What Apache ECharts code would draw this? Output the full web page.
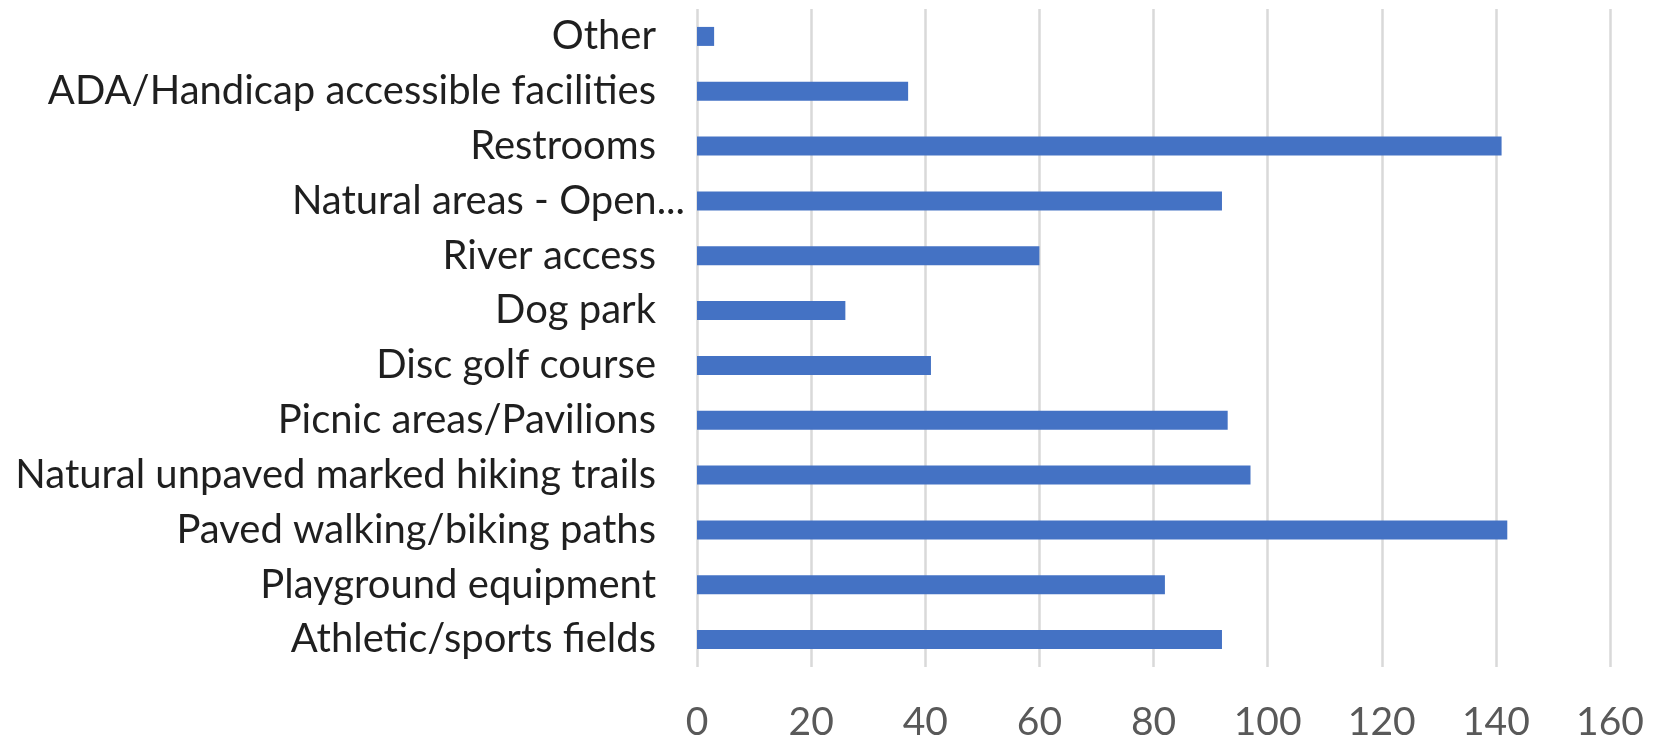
<!DOCTYPE html>
<html>
<head>
<meta charset="utf-8">
<script src="https://cdn.jsdelivr.net/npm/echarts@6/dist/echarts.min.js"></script>
<style>
  html, body { margin: 0; padding: 0; background: #ffffff; }
  #chart { width: 1653px; height: 742px; }
</style>
</head>
<body>
<div id="chart"></div>
<script>
// Amenity categories, listed bottom to top as drawn on the category axis
const categories = [
  'Athletic/sports fields',
  'Playground equipment',
  'Paved walking/biking paths',
  'Natural unpaved marked hiking trails',
  'Picnic areas/Pavilions',
  'Disc golf course',
  'Dog park',
  'River access',
  'Natural areas - Open...',
  'Restrooms',
  'ADA/Handicap accessible facilities',
  'Other'
];

// Number of responses per amenity
const responses = [92, 82, 142, 97, 93, 41, 26, 60, 92, 141, 37, 3];

// Value axis range
const axisMin = 0;
const axisMax = 160;
const axisStep = 20;

const chart = echarts.init(document.getElementById('chart'), null, { renderer: 'canvas' });

const labelFont = 'Lato, "Open Sans", sans-serif';

chart.setOption({
  animation: false,
  backgroundColor: '#ffffff',
  grid: { left: 697, right: 43, top: 9, bottom: 74, containLabel: false },
  xAxis: {
    type: 'value',
    min: axisMin,
    max: axisMax,
    interval: axisStep,
    axisLine: { show: false },
    axisTick: { show: false },
    splitLine: { show: true, lineStyle: { color: '#d9d9d9', width: 2.5 } },
    axisLabel: {
      color: '#595959',
      fontFamily: labelFont,
      fontSize: 39,
      margin: 36
    }
  },
  yAxis: {
    type: 'category',
    data: categories,
    axisLine: { show: false },
    axisTick: { show: false },
    axisLabel: {
      color: '#1f1f1f',
      fontFamily: labelFont,
      fontSize: 40,
      margin: 12,
      // truncated names sit closer to the axis, the rest keep a gap
      formatter: function (v) {
        return v.endsWith('...') ? '{t|' + v + '}' : '{t|' + v + '}{gap|}';
      },
      rich: {
        t: { color: '#1f1f1f', fontFamily: labelFont, fontSize: 40 },
        gap: { width: 29 }
      }
    }
  },
  series: [{
    type: 'bar',
    data: responses,
    barWidth: 19,
    itemStyle: { color: '#4472c4' }
  }]
});
</script>
</body>
</html>
